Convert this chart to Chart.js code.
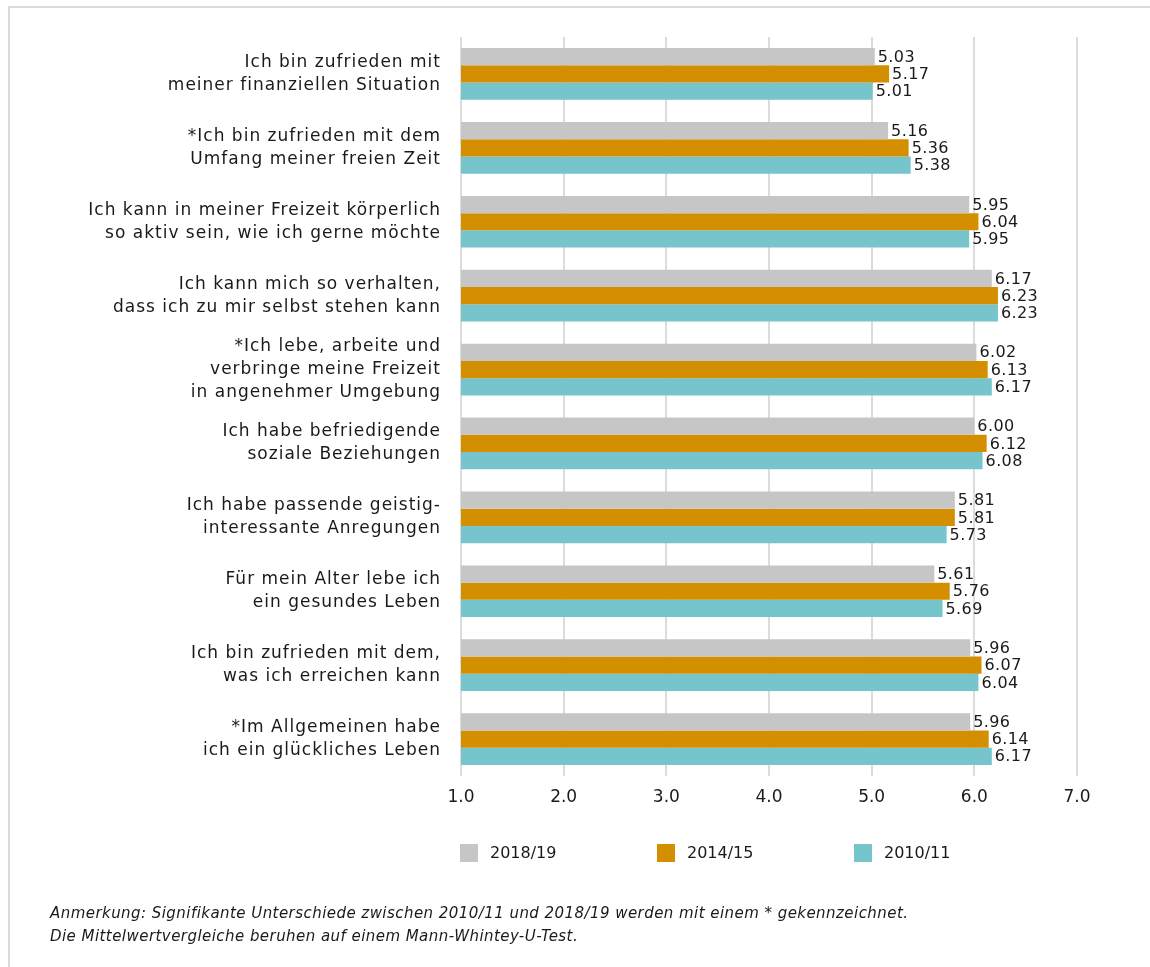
<!DOCTYPE html>
<html>
<head>
<meta charset="utf-8">
<script src="https://cdn.jsdelivr.net/npm/chart.js@4"></script>
<style>
  html, body { margin: 0; padding: 0; background: #fff; }
  #wrap { position: relative; width: 1150px; height: 967px; font-family: "DejaVu Sans", sans-serif; color: #1a1a1a; }
  #frame { position: absolute; left: 8px; top: 6px; right: 0; bottom: 0; border-top: 2px solid #dadada; border-left: 2px solid #dadada; }
  canvas { position: absolute; left: 0; top: 0; }
  .leg { position: absolute; top: 843px; display: flex; align-items: center; font-size: 16px; }
  .leg span.box { display: inline-block; width: 18px; height: 18px; margin-right: 12px; }
  #note { position: absolute; left: 50px; top: 902px; font-size: 15px; font-style: italic; line-height: 23px; letter-spacing: 0.45px; }
</style>
</head>
<body>
<div id="wrap">
  <div id="frame"></div>
  <canvas id="chart" width="1150" height="967"></canvas>
  <div id="legend"></div>
  <div id="note">Anmerkung: Signifikante Unterschiede zwischen 2010/11 und 2018/19 werden mit einem * gekennzeichnet.<br>Die Mittelwertvergleiche beruhen auf einem Mann-Whintey-U-Test.</div>
</div>
<script>
const categories = [
  ['Ich bin zufrieden mit', 'meiner finanziellen Situation'],
  ['*Ich bin zufrieden mit dem', 'Umfang meiner freien Zeit'],
  ['Ich kann in meiner Freizeit körperlich', 'so aktiv sein, wie ich gerne möchte'],
  ['Ich kann mich so verhalten,', 'dass ich zu mir selbst stehen kann'],
  ['*Ich lebe, arbeite und', 'verbringe meine Freizeit', 'in angenehmer Umgebung'],
  ['Ich habe befriedigende', 'soziale Beziehungen'],
  ['Ich habe passende geistig-', 'interessante Anregungen'],
  ['Für mein Alter lebe ich', 'ein gesundes Leben'],
  ['Ich bin zufrieden mit dem,', 'was ich erreichen kann'],
  ['*Im Allgemeinen habe', 'ich ein glückliches Leben']
];
const seriesNames = ['2018/19', '2014/15', '2010/11'];
const values2018 = [5.03, 5.16, 5.95, 6.17, 6.02, 6.00, 5.81, 5.61, 5.96, 5.96];
const values2014 = [5.17, 5.36, 6.04, 6.23, 6.13, 6.12, 5.81, 5.76, 6.07, 6.14];
const values2010 = [5.01, 5.38, 5.95, 6.23, 6.17, 6.08, 5.73, 5.69, 6.04, 6.17];
const xTicks = [1, 2, 3, 4, 5, 6, 7];

const colors = ['#c6c6c6', '#d48f00', '#76c5cc'];
const FONT = '"DejaVu Sans", sans-serif';

// value labels at the end of each bar; also sets letter spacing for the y labels (drawn after datasets)
const valueLabels = {
  id: 'valueLabels',
  beforeDraw(chart) {
    chart.ctx.letterSpacing = '0px';
  },
  afterDatasetsDraw(chart) {
    const ctx = chart.ctx;
    ctx.save();
    ctx.font = '16px ' + FONT;
    ctx.letterSpacing = '0.4px';
    ctx.fillStyle = '#1a1a1a';
    ctx.textBaseline = 'middle';
    ctx.textAlign = 'left';
    chart.data.datasets.forEach((ds, i) => {
      chart.getDatasetMeta(i).data.forEach((bar, j) => {
        ctx.fillText(ds.data[j].toFixed(2), bar.x + 3, bar.y + 1);
      });
    });
    ctx.restore();
    ctx.letterSpacing = '1px';
  },
  afterDraw(chart) {
    chart.ctx.letterSpacing = '0px';
  }
};

new Chart(document.getElementById('chart'), {
  type: 'bar',
  data: {
    labels: categories,
    datasets: [
      { label: seriesNames[0], data: values2018, backgroundColor: colors[0] },
      { label: seriesNames[1], data: values2014, backgroundColor: colors[1] },
      { label: seriesNames[2], data: values2010, backgroundColor: colors[2] }
    ]
  },
  options: {
    indexAxis: 'y',
    responsive: false,
    animation: false,
    datasets: {
      bar: { categoryPercentage: 0.7, barPercentage: 1.0, borderWidth: 0 }
    },
    layout: { padding: { top: 37, right: 73, bottom: 151, left: 0 } },
    plugins: {
      legend: { display: false },
      tooltip: { enabled: false }
    },
    scales: {
      x: {
        min: 1,
        max: 7,
        afterBuildTicks: axis => { axis.ticks = xTicks.map(v => ({ value: v })); },
        afterFit: axis => { axis.height = 40; axis.paddingLeft = 0; axis.paddingRight = 0; },
        grid: { color: '#dcdcdc', lineWidth: 2, drawTicks: false },
        border: { display: false },
        ticks: {
          padding: 11,
          color: '#1a1a1a',
          font: { family: FONT, size: 17 },
          callback: v => Number(v).toFixed(1)
        }
      },
      y: {
        afterFit: axis => { axis.width = 461; axis.paddingTop = 0; axis.paddingBottom = 0; },
        grid: { display: false, drawTicks: false },
        border: { display: false },
        ticks: {
          z: 1,
          padding: 20,
          color: '#1a1a1a',
          font: { family: FONT, size: 17, lineHeight: 1.35 }
        }
      }
    }
  },
  plugins: [valueLabels]
});

// legend in HTML
const legend = document.getElementById('legend');
const legendX = [460, 657, 854];
seriesNames.forEach((name, i) => {
  const item = document.createElement('div');
  item.className = 'leg';
  item.style.left = legendX[i] + 'px';
  item.innerHTML = '<span class="box" style="background:' + colors[i] + '"></span>' + name;
  legend.appendChild(item);
});
</script>
</body>
</html>
